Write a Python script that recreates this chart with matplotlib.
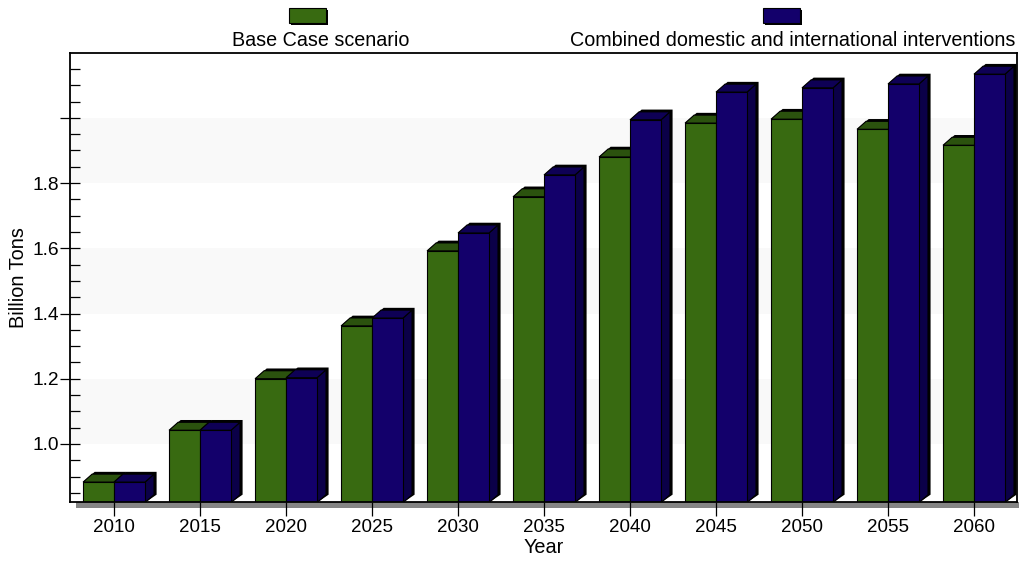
import matplotlib

matplotlib.use("Agg")
import matplotlib.pyplot as plt
from matplotlib.patches import Polygon, Rectangle

plt.rcParams["font.family"] = ["Liberation Sans", "DejaVu Sans"]

# Projected output, billion tons
years = ["2010", "2015", "2020", "2025", "2030", "2035", "2040", "2045", "2050", "2055", "2060"]
base_case = [0.883, 1.042, 1.200, 1.362, 1.592, 1.758, 1.880, 1.984, 1.996, 1.965, 1.916]
combined = [0.883, 1.042, 1.203, 1.386, 1.647, 1.825, 1.994, 2.079, 2.092, 2.104, 2.134]

series_names = ["Base Case scenario", "Combined domestic and international interventions"]
ytick_values = [1.0, 1.2, 1.4, 1.6, 1.8, 2.0]
ytick_labels = ["1.0", "1.2", "1.4", "1.6", "1.8", ""]

GREEN = ("#386a11", "#2b520e", "#23450a")   # front, top, side
BLUE = ("#13006b", "#0e0055", "#0b0048")

BAR_W = 0.36
DX, DY = 0.105, 0.0245   # 3D depth offset in data units


def bar3d(ax, x0, height, colors, base=0.82):
    front, top, side = colors
    x1 = x0 + BAR_W
    # dark shadow peeking out behind the top/back
    sx, sy = 0.03, 0.007
    shadow = [(x0 + DX + sx, height + DY + sy), (x1 + DX + sx, height + DY + sy),
              (x1 + DX + sx, base + DY), (x1, base), (x0, height)]
    ax.add_patch(Polygon(shadow, closed=True, fc="black", ec="none", zorder=2))
    ax.add_patch(Polygon([(x1, base), (x1 + DX, base + DY), (x1 + DX, height + DY), (x1, height)],
                         closed=True, fc=side, ec="black", lw=0.8, zorder=3))
    ax.add_patch(Polygon([(x0, height), (x1, height), (x1 + DX, height + DY), (x0 + DX, height + DY)],
                         closed=True, fc=top, ec="black", lw=0.8, zorder=3))
    ax.add_patch(Rectangle((x0, base - 0.01), BAR_W, height - base + 0.01,
                           fc=front, ec="black", lw=0.8, zorder=4))


fig = plt.figure(figsize=(10.19, 5.61), dpi=100)
ax = fig.add_axes([70 / 1019, 1 - 502 / 561, 947 / 1019, 449 / 561])

ax.set_xlim(-0.512, 10.5)
ax.set_ylim(0.822, 2.199)

for lo, hi in [(1.0, 1.2), (1.4, 1.6), (1.8, 2.0)]:
    ax.axhspan(lo, hi, color="#f9f9f9", zorder=0, lw=0)

for i, (g, b) in enumerate(zip(base_case, combined)):
    bar3d(ax, i - BAR_W, g, GREEN)
    bar3d(ax, i, b, BLUE)

# grey floor under the plot
ax.add_patch(Rectangle((6 / 947, -6 / 449), 1.0, 6 / 449, transform=ax.transAxes,
                       fc="#858585", ec="none", clip_on=False, zorder=1))

ax.set_xticks(range(len(years)))
ax.set_xticklabels(years, fontsize=13.5)
ax.tick_params(axis="x", direction="out", length=10, width=0.9, pad=2)

ax.set_yticks(ytick_values)
ax.set_yticklabels(ytick_labels, fontsize=13.8)
ax.set_yticks([v / 100 for v in range(85, 220, 5)], minor=True)
ax.tick_params(axis="y", which="major", direction="inout", length=14, width=0.9, pad=1)
ax.tick_params(axis="y", which="minor", direction="in", length=7.5, width=0.9)

for s in ax.spines.values():
    s.set_linewidth(1.3)
    s.set_zorder(6)

ax.set_xlabel("Year", fontsize=14.3, labelpad=2)
ax.set_ylabel("Billion Tons", fontsize=14.3, labelpad=3)

# legend: swatch above each label
for (px, tx), name, colors in zip([(289, 321), (763, 793)], series_names, [GREEN, BLUE]):
    fig.patches.append(Rectangle(((px + 2) / 1019, 1 - 25 / 561), 37 / 1019, 15 / 561,
                                 transform=fig.transFigure, fc="black", ec="none"))
    fig.patches.append(Rectangle((px / 1019, 1 - 23 / 561), 37 / 1019, 15 / 561,
                                 transform=fig.transFigure, fc=colors[0], ec="black", lw=0.8))
    fig.text(tx / 1019, 1 - 40 / 561, name, fontsize=14.2, ha="center", va="center")

fig.savefig("out.png", dpi=100)
